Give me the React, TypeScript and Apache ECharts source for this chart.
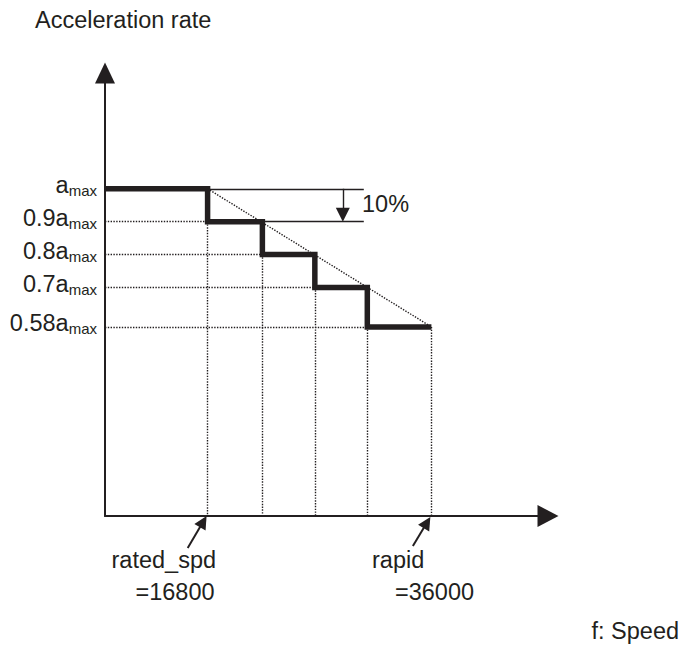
import React, { useEffect, useRef } from "react";
import * as echarts from "echarts";

// ---- data ----
const levels = [1, 0.9, 0.8, 0.7, 0.58];
const levelPrefixes = ["", "0.9", "0.8", "0.7", "0.58"];
const stepSpeeds = [16800, 21500, 26000, 30500, 36000];
const ratedSpd = 16800;
const rapidSpd = 36000;
const xMin = 8000;
const xMax = 46000;
const yMin = 0.005;
const yMax = 1.352;
const refLineEnd = 30200;
const pctArrowX = 28400;

const INK = "#231f20";
const FONT = "'Liberation Sans', Arial, Helvetica, sans-serif";
const FS = 23.5;

export default function App() {
  const ref = useRef<HTMLDivElement>(null);
  useEffect(() => {
    if (!ref.current) return;
    const chart = echarts.init(ref.current, undefined, { renderer: "svg" });

    const stepData: number[][] = [[xMin, levels[0]]];
    for (let i = 0; i < 4; i++) {
      stepData.push([stepSpeeds[i], levels[i]]);
      stepData.push([stepSpeeds[i], levels[i + 1]]);
    }
    stepData.push([stepSpeeds[4], levels[4]]);

    const dotted: any[] = [];
    for (let i = 1; i < levels.length; i++) {
      dotted.push({ coords: [[xMin, levels[i]], [stepSpeeds[i - 1], levels[i]]] });
    }
    for (let i = 0; i < 4; i++) {
      dotted.push({ coords: [[stepSpeeds[i], levels[i + 1]], [stepSpeeds[i], yMin]] });
    }
    dotted.push({ coords: [[stepSpeeds[4], levels[4]], [stepSpeeds[4], yMin]] });
    dotted.push({ coords: [[stepSpeeds[0], levels[0]], [stepSpeeds[4], levels[4]]] });

    const solidRefs = [
      { coords: [[stepSpeeds[0], levels[0]], [refLineEnd, levels[0]]] },
      { coords: [[stepSpeeds[1], levels[1]], [refLineEnd, levels[1]]] },
    ];

    const textStyle = (text: string, x: number, y: number) => ({
      type: "text",
      x,
      y,
      style: {
        text,
        fontSize: FS,
        fontFamily: FONT,
        fill: INK,
        align: "left",
        verticalAlign: "middle",
      },
    });

    chart.setOption({
      animation: false,
      backgroundColor: "#ffffff",
      grid: { left: 105, right: 134, top: 73, bottom: 133 },
      xAxis: {
        type: "value",
        min: xMin,
        max: xMax,
        axisLine: {
          show: true,
          onZero: false,
          symbol: ["none", "triangle"],
          symbolSize: [22, 21],
          lineStyle: { color: INK, width: 2 },
        },
        axisTick: { show: false },
        axisLabel: { show: false },
        splitLine: { show: false },
      },
      yAxis: {
        type: "value",
        min: yMin,
        max: yMax,
        axisLine: {
          show: true,
          symbol: ["none", "triangle"],
          symbolSize: [20, 21],
          lineStyle: { color: INK, width: 2 },
        },
        axisTick: { show: false },
        splitLine: { show: false },
        axisLabel: {
          show: true,
          customValues: levels,
          margin: 8,
          padding: [0, 0, 7, 0],
          formatter: (v: number) => {
            const i = levels.findIndex((l) => Math.abs(l - v) < 1e-6);
            if (i < 0) return "";
            return `{m|${levelPrefixes[i]}a}{s|max}`;
          },
          rich: {
            m: { fontSize: FS, fontFamily: FONT, color: INK, lineHeight: 26 },
            s: {
              fontSize: 15,
              fontFamily: FONT,
              color: INK,
              lineHeight: 10,
              verticalAlign: "bottom",
            },
          },
        },
      },
      series: [
        {
          type: "lines",
          coordinateSystem: "cartesian2d",
          clip: false,
          silent: true,
          z: 2,
          lineStyle: { color: INK, width: 1.4, type: [1.4, 1.4], opacity: 1 },
          data: dotted,
        },
        {
          type: "lines",
          coordinateSystem: "cartesian2d",
          clip: false,
          silent: true,
          z: 2,
          lineStyle: { color: INK, width: 1.3, type: "solid", opacity: 1 },
          data: solidRefs,
        },
        {
          type: "lines",
          coordinateSystem: "cartesian2d",
          clip: false,
          silent: true,
          z: 3,
          symbol: ["none", "triangle"],
          symbolSize: [13, 14],
          lineStyle: { color: INK, width: 1.4, type: "solid", opacity: 1 },
          data: [{ coords: [[pctArrowX, levels[0]], [pctArrowX, 0.921]] }],
        },
        {
          type: "lines",
          coordinateSystem: "cartesian2d",
          clip: false,
          silent: true,
          z: 3,
          symbol: ["none", "triangle"],
          symbolSize: [12, 13],
          lineStyle: { color: INK, width: 2, type: "solid", opacity: 1 },
          data: [
            { coords: [[15095, -0.092], [ratedSpd - 370, -0.012]] },
            { coords: [[34410, -0.086], [rapidSpd - 380, -0.015]] },
          ],
        },
        {
          type: "line",
          data: stepData,
          showSymbol: false,
          symbol: "none",
          z: 5,
          lineStyle: { color: INK, width: 5.5, cap: "butt", join: "miter" },
          silent: true,
        },
      ],
      graphic: [
        textStyle("Acceleration rate", 35, 20),
        textStyle("f: Speed", 591.5, 630.5),
        textStyle("10%", 362, 204),
        textStyle("rated_spd", 111.5, 560),
        textStyle(`=${ratedSpd}`, 135.5, 592),
        textStyle("rapid", 372, 560),
        textStyle(`=${rapidSpd}`, 395, 592),
      ],
    });
    return () => chart.dispose();
  }, []);
  return (
    <div
      ref={ref}
      style={{ position: "fixed", left: 0, top: 0, width: 682, height: 649 }}
    />
  );
}
